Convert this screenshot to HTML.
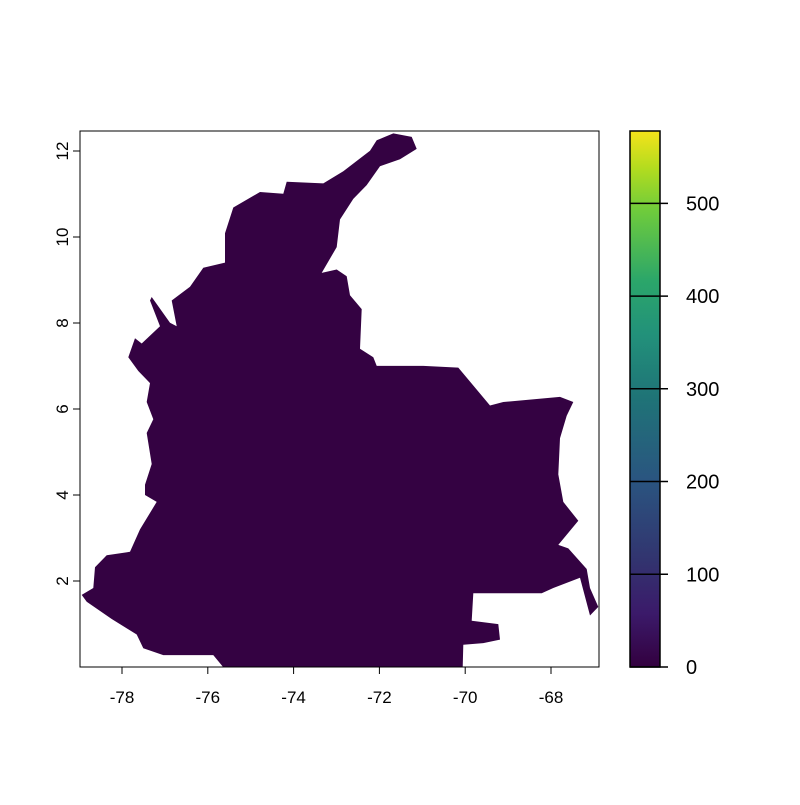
<!DOCTYPE html>
<html><head><meta charset="utf-8"><style>
body{margin:0;background:#fff}
svg text{font-family:"Liberation Sans",Arial,sans-serif}
</style></head><body>
<svg id="chart" width="800" height="800" viewBox="0 0 800 800">
<defs><linearGradient id="vir" x1="0" y1="1" x2="0" y2="0">
<stop offset="0" stop-color="#33003f"/><stop offset="0.1" stop-color="#3b1a6a"/><stop offset="0.2" stop-color="#32346f"/><stop offset="0.35" stop-color="#2a5580"/><stop offset="0.5" stop-color="#1f7377"/><stop offset="0.62" stop-color="#22917a"/><stop offset="0.72" stop-color="#2ba66a"/><stop offset="0.85" stop-color="#6ecb3c"/><stop offset="0.93" stop-color="#b2dc1f"/><stop offset="1" stop-color="#f5e31a"/>
</linearGradient></defs>
<polygon id="land" fill="#340242"/>
<rect x="80" y="131" width="519" height="536" fill="none" stroke="#000"/>
<g id="axes"></g>
<rect x="630" y="131" width="30" height="536" fill="url(#vir)" stroke="#000" stroke-width="1.5"/>
<g id="cbar"></g>
</svg>
<script>
const xTicks=[-78,-76,-74,-72,-70,-68];
const yTicks=[2,4,6,8,10,12];
const cbTicks=[0,100,200,300,400,500];
const cbMax=578;
// outline traced in zoom-crop coordinates
const outline=[[940,10],[995,20],[1010,55],[960,85],[900,105],[860,160],[820,200],[780,260],[770,340],[725,415],[770,405],[800,425],[810,480],[845,520],[840,635],[880,660],[890,685],[1030,685],[1135,690],[1230,800],[1270,790],[1440,775],[1480,790],[1460,830],[1440,895],[1435,1000],[1450,1080],[1495,1135],[1435,1205],[1465,1215],[1520,1275],[1530,1330],[1555,1385],[1530,1410],[1500,1300],[1420,1330],[1385,1345],[1180,1345],[1175,1425],[1255,1435],[1260,1480],[1210,1490],[1150,1495],[1148,1560],[430,1560],[400,1525],[250,1525],[190,1505],[170,1465],[95,1420],[20,1370],[5,1350],[40,1330],[45,1270],[80,1235],[150,1225],[180,1160],[230,1080],[195,1060],[195,1030],[215,970],[200,880],[220,840],[200,790],[210,735],[175,700],[145,660],[165,605],[185,620],[240,570],[210,495],[215,485],[270,560],[290,570],[275,495],[330,455],[370,400],[435,385],[435,300],[460,225],[540,180],[610,185],[620,150],[730,155],[790,120],[870,60],[890,30]];
const NS='http://www.w3.org/2000/svg';
function X(v){return 122+(v+78)*42.9;}
function Y(v){return 581-(v-2)*43;}
function CB(v){return 667-v/cbMax*536;}
document.getElementById('land').setAttribute('points',outline.map(p=>(80+p[0]/3).toFixed(1)+','+(130+p[1]/2.904).toFixed(1)).join(' '));
const ax=document.getElementById('axes');
function mk(tag,at,txt){const e=document.createElementNS(NS,tag);for(const k in at)e.setAttribute(k,at[k]);if(txt!==undefined)e.textContent=txt;return e;}
xTicks.forEach(t=>{const x=X(t);
const l=mk('line',{x1:x,x2:x,y1:667,y2:674,stroke:'#000'});

ax.appendChild(l);
const s=mk('text',{x:x,y:703,'font-size':17,'text-anchor':'middle'},t);

ax.appendChild(s);});
yTicks.forEach(t=>{const y=Y(t);
const l=mk('line',{x1:73,x2:80,y1:y,y2:y,stroke:'#000'});

ax.appendChild(l);
const s=mk('text',{x:0,y:0,'font-size':17,'text-anchor':'middle',transform:'translate(68,'+y+') rotate(-90)'},t);

ax.appendChild(s);});
const cb=document.getElementById('cbar');
cbTicks.forEach(t=>{const y=CB(t);
const l=mk('line',{x1:630,x2:668,y1:y,y2:y,stroke:'#000','stroke-width':1.5});

cb.appendChild(l);
const s=mk('text',{x:686,y:y+7,'font-size':20},t);

cb.appendChild(s);});
</script>
</body></html>
